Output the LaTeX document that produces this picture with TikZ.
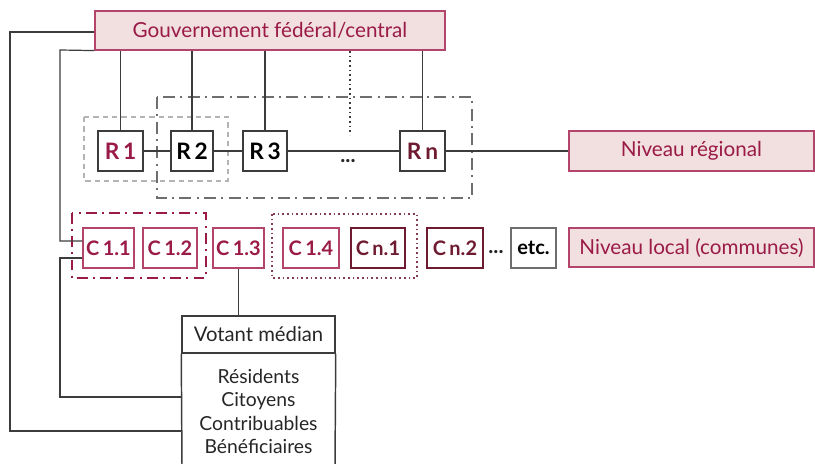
\documentclass[tikz,border=0pt]{standalone}
\usepackage{fontspec}
\setmainfont{Lato}
\begin{document}
\definecolor{crim}{HTML}{B3456C}
\definecolor{crimtext}{HTML}{9A1B48}
\definecolor{maroon}{HTML}{6E1A30}
\definecolor{pinkfill}{HTML}{F2DFDF}
\definecolor{linegray}{HTML}{3C3C3C}
\definecolor{dashgray}{HTML}{6E6E6E}
\definecolor{lightgray}{HTML}{B4B4B4}
\tikzset{
  lvlbox/.style={draw=crim, fill=pinkfill, line width=1.1pt, text=crimtext,
    inner sep=0pt, font=\fontsize{15.5}{17}\selectfont},
  rbox/.style={draw=linegray, fill=white, line width=1.1pt, inner sep=0pt,
    minimum height=30pt, font=\bfseries\fontsize{17}{19}\selectfont},
  cbox/.style={draw=crim, fill=white, line width=1.1pt, inner sep=0pt, text=crimtext,
    minimum height=30pt, font=\bfseries\fontsize{15}{17}\selectfont},
  mbox/.style={cbox, draw=maroon, text=maroon},
  link/.style={draw=linegray, line width=0.9pt},
  plaintxt/.style={inner sep=0pt, font=\fontsize{14.5}{17.5}\selectfont, text=black!85},
  dotstxt/.style={inner sep=0pt, font=\bfseries\fontsize{16}{18}\selectfont, text=black!85},
}
\begin{tikzpicture}[x=0.75pt, y=-0.75pt]
  \useasboundingbox (0,0) rectangle (815,464);

  % grouping frames
  \draw[dashgray, line width=1.5pt, dash pattern=on 9pt off 4pt on 1.5pt off 4pt]
    (157,97) rectangle (472,198);
  \draw[lightgray, line width=1.5pt, dash pattern=on 4pt off 3pt]
    (84,117) rectangle (228,181);
  \draw[crimtext, line width=1.7pt, dash pattern=on 8pt off 4pt on 1.5pt off 4pt]
    (72,213) rectangle (206,278);
  \draw[maroon!85, line width=1.4pt, dash pattern=on 1.3pt off 2.2pt]
    (272,214) rectangle (417,278);

  % central government
  \node[lvlbox, minimum width=262.5pt, minimum height=29pt] (gov) at (270,30.5)
    {Gouvernement fédéral/central};

  % regions
  \node[rbox, minimum width=33.75pt, text=crimtext] (R1) at (120.5,151) {R\,1};
  \node[rbox, minimum width=31.5pt] (R2) at (192,151) {R\,2};
  \node[rbox, minimum width=33pt] (R3) at (265,151) {R\,3};
  \node[rbox, minimum width=33.75pt, text=maroon] (Rn) at (422.5,151) {R\,n};
  \node[dotstxt] (rdots) at (348,161) {...};

  \node[lvlbox, minimum width=183.75pt, minimum height=30pt] (reg) at (691.5,151)
    {Niveau régional};

  % communes
  \node[cbox, minimum width=38.25pt] (C11) at (108.5,248) {C\,1.1};
  \node[cbox, minimum width=40.5pt] (C12) at (170,248) {C\,1.2};
  \node[cbox, minimum width=38.25pt] (C13) at (238.5,248) {C\,1.3};
  \node[cbox, minimum width=42pt] (C14) at (311,248) {C\,1.4};
  \node[mbox, minimum width=40.5pt] (Cn1) at (378,248) {C\,n.1};
  \node[mbox, minimum width=42pt] (Cn2) at (455,248) {C\,n.2};
  \node[dotstxt] (cdots) at (496,252) {...};
  \node[rbox, draw=dashgray, minimum width=33.75pt, minimum height=30pt,
    font=\bfseries\fontsize{15}{17}\selectfont] (etc) at (533.5,248) {etc.};

  \node[lvlbox, minimum width=183.75pt, minimum height=29.5pt] (loc) at (691.5,247.5)
    {Niveau local (communes)};

  % median voter
  \node[draw=linegray, line width=1.1pt, minimum width=114.75pt, minimum height=27.75pt,
    inner sep=0pt, font=\fontsize{15.2}{17}\selectfont, text=black!85] (vt) at (258.5,334.5)
    {Votant médian};
  \node[plaintxt, align=center, anchor=north] (vl) at (258.5,369)
    {Résidents\\Citoyens\\Contribuables\\Bénéficiaires};
  \coordinate (vbl) at (182,466);
  \coordinate (vbr) at (335,466);
  \draw[linegray, line width=1.1pt] (vt.south west) -- (vbl);
  \draw[linegray, line width=1.1pt] (vt.south east) -- (vbr);

  % government to regions
  \foreach \r in {R1,R2,R3,Rn} {
    \draw[link] (gov.south -| \r) -- (\r.north);
  }
  \coordinate (dtop) at (350,51);
  \coordinate (dbot) at (350,135);
  \draw[linegray, line width=1.2pt, dash pattern=on 1.2pt off 2.3pt] (dtop) -- (dbot);

  % regional chain
  \draw[link] (R1) -- (R2);
  \draw[link] (R2) -- (R3);
  \draw[link] (R3) -- (Rn);
  \draw[link] (Rn) -- (reg);

  % commune to median voter
  \draw[link] (C13.south) -- (C13.south |- vt.north);

  % feedback loops
  \coordinate (o1) at (10,32);
  \coordinate (o2) at (10,431);
  \draw[link] (gov.west |- o1) -- (o1) -- (o2) -- (vt.west |- o2);
  \coordinate (i1) at (60,50);
  \coordinate (i2) at (60,241);
  \draw[link] (gov.south west) -- (i1) -- (i2) -- (C11.west |- i2);
  \coordinate (i3) at (60,258);
  \coordinate (i4) at (60,397);
  \draw[link] (C11.west |- i3) -- (i3) -- (i4) -- (vt.west |- i4);
\end{tikzpicture}
\end{document}
